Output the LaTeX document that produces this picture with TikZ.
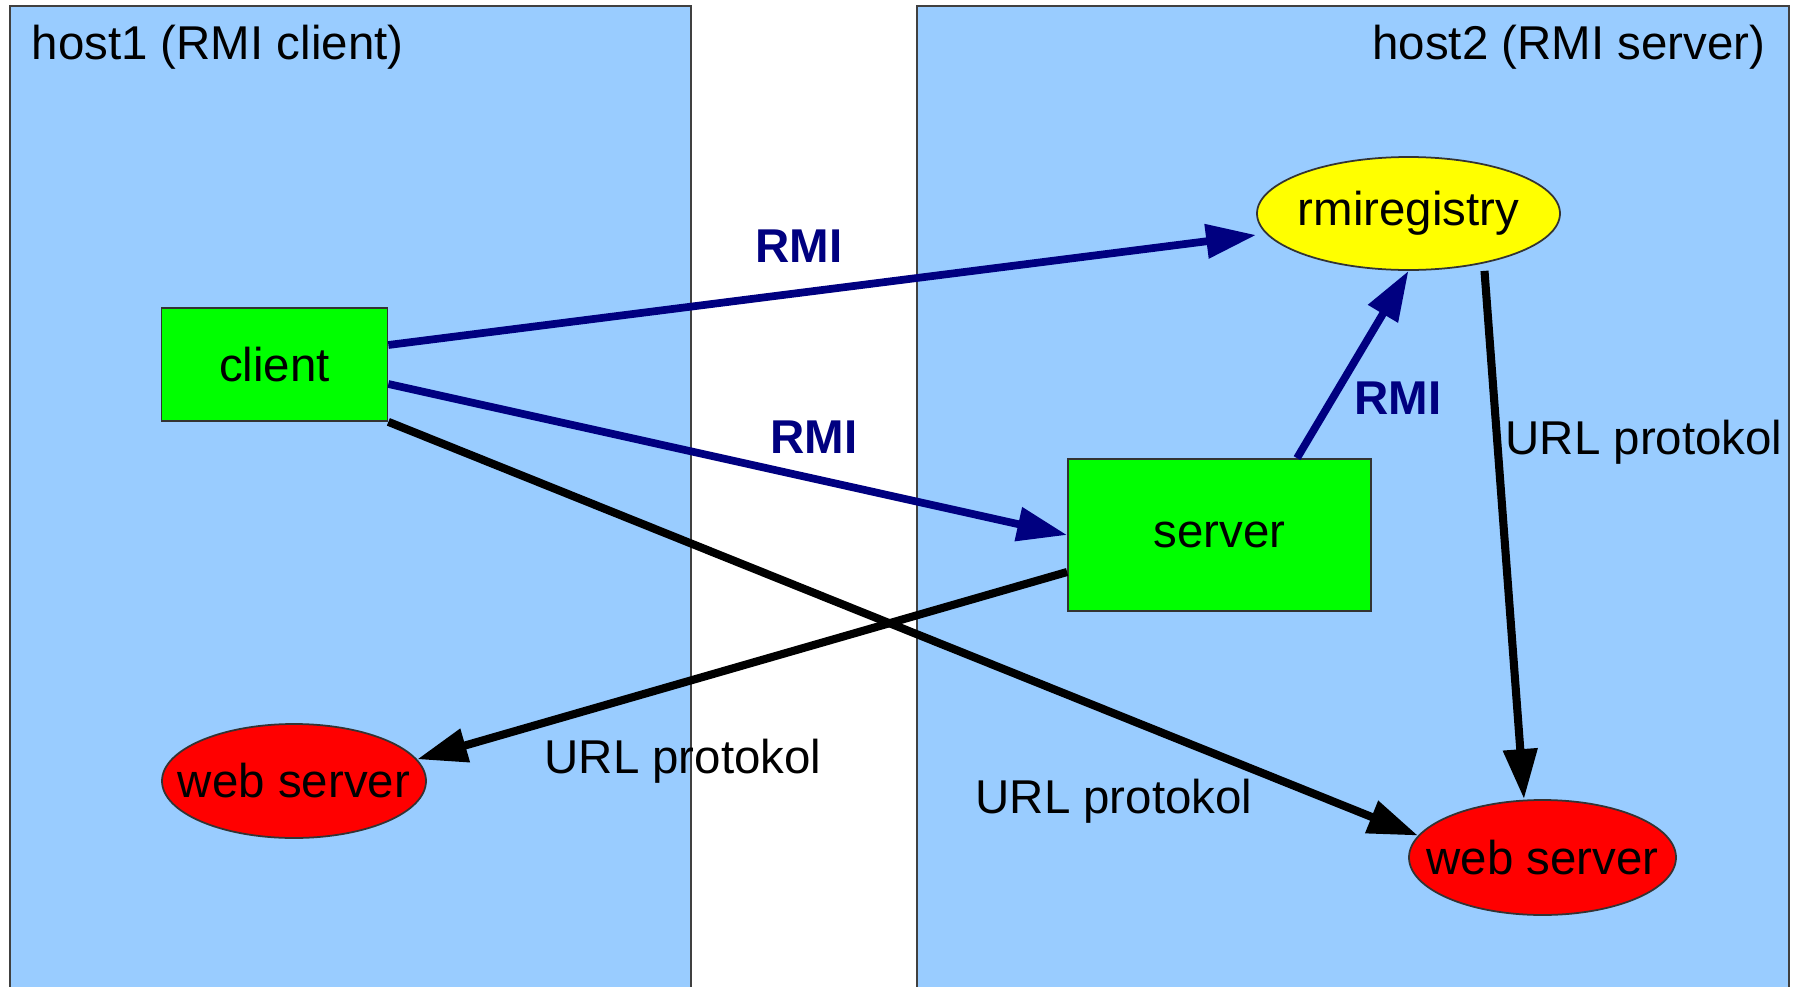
\documentclass[tikz,border=0pt]{standalone}
\usepackage{fontspec}
\setmainfont{Liberation Sans}
\usetikzlibrary{arrows.meta,shapes.geometric}
\definecolor{hostblue}{HTML}{99CCFF}
\definecolor{rminavy}{HTML}{000080}
\definecolor{boxgreen}{HTML}{00FF00}
\definecolor{regyellow}{HTML}{FFFF00}
\definecolor{webred}{HTML}{FF0000}

\begin{document}
\begin{tikzpicture}[
        every node/.style = {font=\fontsize{13.5}{16}\selectfont, inner sep=0pt},
        host/.style = {fill=hostblue, draw=black!75, line width=0.4pt},
        prog/.style = {rectangle, fill=boxgreen, draw=black!80, line width=0.5pt},
        oval/.style = {ellipse, draw=black!80, line width=0.5pt},
        rmi/.style = {line width=2.2pt, color=rminavy, -{Triangle[length=5mm,width=3.3mm]}},
        url/.style = {line width=2.3pt, color=black, -{Triangle[length=5mm,width=3.3mm]}},
        rmilabel/.style = {text=rminavy, font=\fontsize{13.5}{16}\selectfont\bfseries}
    ]
        \clip (0,0) rectangle (17.97,-9.87);
        \fill[white] (0,0) rectangle (17.97,-9.87);
        \draw[host] (0.10,-0.06) rectangle (6.91,-10.2);
        \draw[host] (9.17,-0.06) rectangle (17.89,-10.2);
        \node[anchor=west] (hostA) at (0.31,-0.47) {host1 (RMI client)};
        \node[anchor=east] (hostB) at (17.66,-0.47) {host2 (RMI server)};

        \node[prog, minimum width=2.26cm, minimum height=1.13cm] (client) at (2.745,-3.645) {client};
        \node[prog, minimum width=3.03cm, minimum height=1.52cm] (server) at (12.195,-5.35) {server};
        \node[oval, fill=regyellow, minimum width=3.03cm, minimum height=1.13cm, label=center:rmiregistry] (registry) at (14.085,-2.135) {};
        \node[oval, fill=webred, minimum width=2.64cm, minimum height=1.14cm, label=center:web server] (web1) at (2.94,-7.81) {};
        \node[oval, fill=webred, minimum width=2.67cm, minimum height=1.15cm, label=center:web server] (web2) at (15.425,-8.575) {};

        \draw[rmi] ([yshift=1.95mm]client.east) -- ([yshift=-2.15mm]registry.west);
        \draw[rmi] ([yshift=-1.95mm]client.east) -- (server.west);
        \draw[rmi] ([xshift=7.75mm]server.north) -- (registry.south);
        \draw[url] (client.south east) -- (web2.170);
        \draw[url] ([yshift=-3.7mm]server.west) -- (web1.10);
        \draw[url] ([xshift=7.6mm]registry.south) -- ([xshift=-1.85mm]web2.north);

        \node[rmilabel] (rmiA) at (7.99,-2.46) {RMI};
        \node[rmilabel] (rmiB) at (8.14,-4.37) {RMI};
        \node[rmilabel] (rmiC) at (13.98,-3.98) {RMI};
        \node[anchor=west] (urlA) at (15.05,-4.42) {URL protokol};
        \node (urlB) at (6.83,-7.61) {URL protokol};
        \node (urlC) at (11.14,-8.01) {URL protokol};
\end{tikzpicture}
\end{document}
